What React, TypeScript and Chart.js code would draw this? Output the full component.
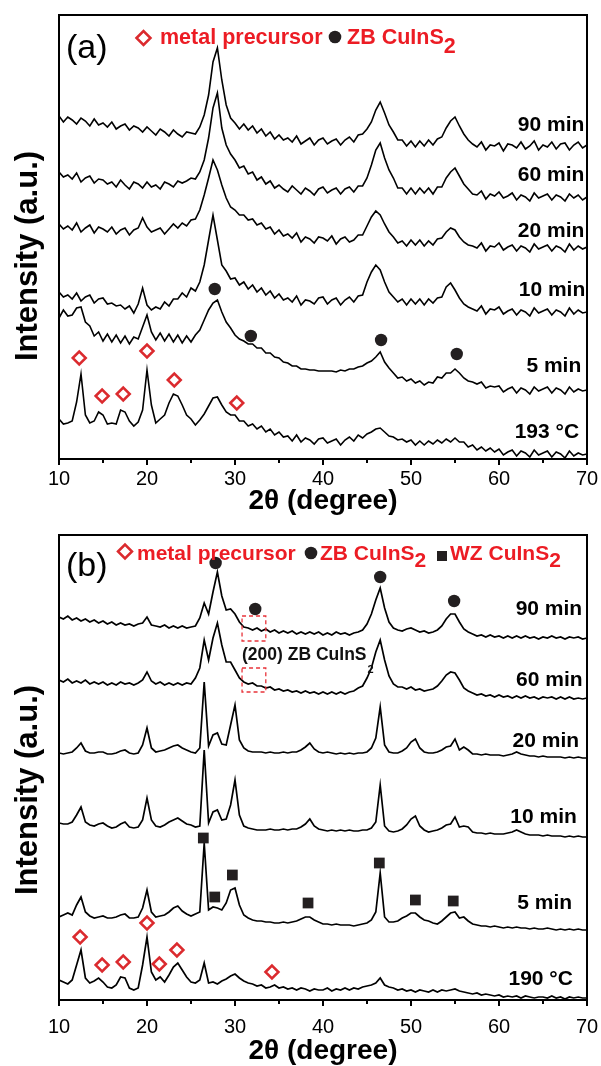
import React, { useEffect, useRef } from 'react';
import { Chart, registerables } from 'chart.js';

Chart.register(...registerables);

const FONT = "'Liberation Sans', Arial, Helvetica, sans-serif";
const RED = '#ec1c24';
const DIAMOND_RED = '#db2a2e';
const MARK_BLACK = '#231f20';

// 2θ sampling grid (degrees)
const TWO_THETA = [
  10, 10.5, 11, 11.5, 12, 12.5, 13, 13.5, 14, 14.5,
  15, 15.5, 16, 16.5, 17, 17.5, 18, 18.5, 19, 19.5,
  20, 20.5, 21, 21.5, 22, 22.5, 23, 23.5, 24, 24.5,
  25, 25.5, 26, 26.5, 27, 27.5, 28, 28.5, 29, 29.5,
  30, 30.5, 31, 31.5, 32, 32.5, 33, 33.5, 34, 34.5,
  35, 35.5, 36, 36.5, 37, 37.5, 38, 38.5, 39, 39.5,
  40, 40.5, 41, 41.5, 42, 42.5, 43, 43.5, 44, 44.5,
  45, 45.5, 46, 46.5, 47, 47.5, 48, 48.5, 49, 49.5,
  50, 50.5, 51, 51.5, 52, 52.5, 53, 53.5, 54, 54.5,
  55, 55.5, 56, 56.5, 57, 57.5, 58, 58.5, 59, 59.5,
  60, 60.5, 61, 61.5, 62, 62.5, 63, 63.5, 64, 64.5,
  65, 65.5, 66, 66.5, 67, 67.5, 68, 68.5, 69, 69.5,
  70,
];

const X_TICKS = [10, 20, 30, 40, 50, 60, 70];
const X_MINOR_TICKS = [15, 25, 35, 45, 55, 65];

// ---------- Panel (a): stacked patterns (a.u., offset) ----------
const A_90 = [
  384, 378, 383, 380, 376, 382, 379, 374, 381, 375,
  377, 373, 378, 371, 374, 376, 370, 374, 372, 368,
  373, 369, 365, 371, 368, 364, 370, 366, 363, 368,
  367, 366, 373, 385, 405, 438, 452, 420, 395, 382,
  377, 371, 376, 370, 374, 367, 371, 364, 368, 361,
  365, 360, 362, 358, 364, 356, 359, 362, 355, 360,
  362, 356, 359, 361, 355, 360, 363, 358, 365, 366,
  371, 378, 390, 398, 387, 375, 368, 360, 360, 354,
  359, 353, 359, 354, 360, 355, 361, 363, 372, 379,
  383, 374, 366, 360, 356, 353, 358, 350, 355, 354,
  357, 349, 356, 355, 352, 358, 351, 354, 359, 350,
  355, 353, 358, 351, 356, 357, 350, 355, 358, 352,
  355,
];
const A_60 = [
  328, 323, 325, 321, 327, 318, 322, 324, 317, 321,
  320, 316, 318, 313, 320, 315, 311, 318, 316, 312,
  318, 313, 315, 311, 318, 316, 313, 319, 317, 319,
  322, 321, 328, 340, 362, 392, 407, 372, 355, 346,
  340, 332, 334, 326, 328, 320, 323, 316, 319, 312,
  315, 311, 308, 314, 310, 306, 312, 309, 305, 311,
  313, 307, 310, 312, 306, 311, 313, 308, 314, 314,
  322, 335, 350, 357, 342, 330, 322, 312, 312, 306,
  312, 306, 312, 307, 312, 306, 313, 313, 322, 328,
  332, 324, 316, 311, 306, 305, 309, 301, 306, 304,
  308, 302, 304, 307, 300, 305, 303, 299, 307, 302,
  304, 306, 300, 305, 303, 299, 306, 302, 305, 300,
  303,
];
const A_20 = [
  276, 271, 274, 270, 277, 268, 272, 275, 267, 273,
  271, 268, 273, 266, 270, 272, 265, 270, 272, 282,
  273, 268, 270, 272, 266, 271, 276, 272, 277, 274,
  280, 281, 290, 305, 322, 340, 330, 315, 302, 293,
  290, 285, 285, 280, 281, 275, 277, 271, 273, 266,
  270, 264, 266, 262, 267, 258, 263, 261, 257, 263,
  262, 259, 264, 256, 261, 263, 258, 260, 265, 265,
  274, 283, 289, 285, 276, 268, 263, 257, 259, 254,
  260, 255, 260, 254, 259, 255, 261, 262, 268, 272,
  270, 263, 258, 255, 254, 252, 257, 249, 254, 253,
  257, 250, 253, 255, 249, 254, 252, 248, 256, 251,
  253, 255, 249, 254, 252, 248, 256, 250, 254, 251,
  253,
];
const A_10 = [
  208, 203, 205, 201, 207, 199, 203, 205, 197, 201,
  202, 196, 197, 194, 195, 191, 194, 187, 196, 212,
  195, 190, 193, 191, 198, 194, 201, 201, 207, 203,
  212, 209, 218, 235, 260, 285, 260, 235, 229, 221,
  222, 215, 218, 211, 215, 208, 212, 205, 209, 202,
  206, 200, 202, 198, 204, 195, 200, 199, 196, 202,
  203, 196, 200, 202, 195, 200, 203, 198, 204, 205,
  218, 228, 235, 230, 218, 208, 203, 198, 201, 195,
  201, 196, 201, 195, 201, 197, 202, 203, 213, 217,
  210, 202, 196, 193, 191, 189, 194, 186, 191, 190,
  193, 186, 189, 191, 185, 190, 188, 184, 192, 187,
  189, 191, 185, 190, 188, 184, 192, 186, 190, 187,
  188,
];
const A_5 = [
  182, 190, 184, 185, 192, 193, 178, 174, 164, 168,
  159, 166, 158, 165, 157, 164, 156, 163, 161, 173,
  185, 168, 160, 167, 159, 166, 158, 165, 157, 164,
  158, 165, 170, 180, 190, 197, 200, 188, 178, 172,
  165, 161, 159, 156, 156, 152, 152, 147, 147, 143,
  142, 138, 137, 134, 134, 131, 131, 130, 130, 129,
  129, 129, 129, 128, 130, 129, 131, 131, 133, 134,
  137, 139, 143, 148, 138, 132, 127, 122, 123, 119,
  121, 117, 119, 115, 118, 117, 123, 122, 127, 127,
  131, 127, 122, 119, 118, 116, 118, 112, 114, 113,
  114, 108, 111, 113, 107, 112, 110, 106, 113, 109,
  111, 113, 107, 112, 110, 106, 113, 108, 111, 109,
  110,
];
const A_193 = [
  81, 76, 77, 79, 98, 126, 85, 77, 79, 88,
  85, 76, 77, 76, 90, 88, 79, 74, 78, 90,
  130, 95, 77, 81, 85, 97, 106, 104, 95, 85,
  81, 75, 80, 86, 94, 102, 103, 95, 88, 85,
  85, 79, 79, 74, 76, 71, 74, 68, 71, 65,
  68, 63, 64, 59, 65, 58, 62, 60, 56, 61,
  62, 57, 59, 61, 55, 60, 63, 59, 65, 62,
  66, 68, 71, 72, 68, 64, 63, 60, 61, 58,
  60, 55, 59, 55, 59, 56, 60, 57, 61, 58,
  62, 58, 58, 53, 55, 50, 53, 49, 52, 48,
  51, 45, 48, 50, 44, 49, 47, 43, 50, 45,
  47, 49, 43, 48, 46, 42, 49, 44, 47, 45,
  46,
];
const A_LABELS = ['90 min', '60 min', '20 min', '10 min', '5 min', '193 °C'];
const A_LABEL_X = [69.7, 69.7, 69.7, 69.8, 69.35, 69.1];
const A_LABEL_Y = [375, 325, 269, 210, 134, 68];
const A_DIAMOND_X = [12.3, 14.9, 17.3, 20.0, 23.1, 30.2];
const A_DIAMOND_Y = [142, 104, 106, 149, 120, 97];
const A_CIRCLE_X = [27.7, 31.8, 46.6, 55.2];
const A_CIRCLE_Y = [211, 164, 160, 146];

// ---------- Panel (b) ----------
const B_90 = [
  383, 381, 384, 380, 382, 379, 381, 378, 380, 377,
  379, 376, 378, 375, 377, 375, 376, 374, 376, 377,
  383, 375, 374, 373, 375, 372, 374, 372, 374, 372,
  373, 374, 382, 397, 386, 408, 428, 404, 390, 391,
  386, 378, 373, 372, 370, 372, 369, 371, 368, 370,
  367, 369, 367, 369, 366, 368, 366, 368, 366, 368,
  365, 367, 365, 368, 366, 367, 365, 367, 368, 370,
  376, 386, 400, 412, 392, 378, 372, 370, 369, 371,
  372, 370, 368, 369, 367, 368, 370, 374, 381, 386,
  386, 378, 371, 368, 366, 364, 365, 363, 365, 363,
  364, 362, 364, 362, 364, 362, 364, 362, 363, 361,
  363, 362, 364, 362, 363, 361, 363, 362, 363, 361,
  362,
];
const B_60 = [
  320, 318, 321, 317, 319, 317, 320, 316, 318, 316,
  318, 315, 317, 315, 318, 316, 317, 315, 317, 320,
  328, 319, 316, 318, 315, 317, 315, 317, 315, 317,
  316, 322, 332, 360, 340, 362, 377, 355, 338, 338,
  330, 322, 318, 316, 317, 314, 314, 312, 313, 310,
  311, 309, 310, 308, 309, 307, 309, 307, 308, 306,
  308, 306, 308, 306, 308, 306, 308, 309, 312, 314,
  322, 332, 348, 360, 340, 324, 316, 313, 313, 311,
  313, 310, 311, 309, 310, 311, 314, 319, 325, 328,
  327, 320, 312, 309, 307, 305, 306, 304, 305, 303,
  305, 303, 304, 302, 304, 302, 304, 302, 303, 301,
  303, 302, 303, 301, 303, 301, 303, 301, 302, 301,
  302,
];
const B_20 = [
  247, 246, 247, 248, 252, 257, 249, 247, 247, 248,
  248, 246, 246, 247, 249, 250, 247, 246, 247, 255,
  272, 252, 248, 249, 250, 252, 254, 255, 252, 250,
  248, 247, 252, 318, 254, 265, 267, 256, 255, 275,
  295, 260, 252, 249, 248, 248, 248, 247, 248, 247,
  247, 248, 247, 248, 248, 250, 253, 257, 251, 248,
  247, 248, 247, 246, 247, 246, 247, 246, 247, 247,
  248, 252, 262, 293, 255, 248, 247, 247, 249, 252,
  258, 261, 252, 248, 247, 247, 248, 250, 253, 254,
  261, 250, 253, 250, 246, 246, 245, 246, 245, 245,
  245, 244, 245, 246, 248, 246, 245, 244, 244, 243,
  244, 243, 243, 243, 243, 242, 243, 242, 243, 242,
  242,
];
const B_10 = [
  177, 176, 176, 178, 185, 193, 178, 175, 174, 176,
  177, 174, 172, 173, 176, 178, 173, 172, 173, 180,
  202, 180, 174, 173, 175, 178, 180, 182, 179, 176,
  175, 173, 174, 250, 177, 188, 190, 180, 181, 195,
  220, 185, 174, 172, 171, 170, 170, 170, 171, 170,
  170, 171, 170, 171, 171, 173, 176, 181, 174, 171,
  170, 169, 170, 169, 170, 169, 170, 169, 169, 170,
  170, 172, 178, 215, 174, 169, 168, 169, 171, 175,
  181, 184, 174, 170, 168, 169, 170, 172, 175, 176,
  183, 173, 174, 173, 168, 167, 167, 166, 167, 166,
  166, 166, 167, 168, 170, 168, 166, 165, 165, 165,
  164, 165, 164, 164, 164, 163, 164, 163, 164, 163,
  163,
];
const B_5 = [
  83, 85, 87, 85, 95, 103, 88, 84, 82, 83,
  84, 82, 82, 83, 85, 86, 82, 82, 83, 92,
  110, 88, 83, 84, 85, 88, 92, 94, 89, 86,
  84, 86, 88, 157, 90, 93, 92, 90, 97, 110,
  112, 95, 85, 82, 80, 79, 79, 78, 78, 77,
  77, 78, 77, 78, 79, 81, 83, 83, 80, 78,
  76, 76, 75, 76, 75, 75, 75, 74, 75, 76,
  77, 80, 88, 127, 83, 78, 78, 79, 82, 84,
  87, 87, 83, 80, 79, 77, 76, 79, 83, 87,
  88, 82, 83, 79, 76, 75, 74, 74, 73, 74,
  73, 72, 73, 72, 73, 72, 72, 71, 72, 71,
  71, 72, 71, 70, 71, 70, 71, 70, 71, 70,
  70,
];
const B_190 = [
  20, 18, 16, 20, 35, 50, 22, 17, 19, 22,
  18, 13, 12, 15, 23, 22, 12, 10, 12, 35,
  63, 28, 20, 23, 18, 25, 33, 37, 30, 23,
  18, 17, 20, 37, 17, 18, 16, 19, 21, 24,
  26, 22, 19, 17, 16, 14, 15, 12, 13, 15,
  12, 13, 11, 12, 10, 12, 11, 9, 11, 10,
  10, 12, 9, 11, 10, 12, 10, 12, 11, 13,
  14, 15, 17, 22, 15, 13, 12, 10, 11, 9,
  10, 8, 10, 9, 8, 10, 8, 10, 9, 10,
  11, 9, 8, 7, 6, 7, 5, 6, 5, 4,
  5, 3, 4, 3, 4, 2, 4, 3, 2, 3,
  3, 2, 4, 2, 3, 1, 3, 2, 3, 2,
  2,
];
const B_LABELS = ['90 min', '60 min', '20 min', '10 min', '5 min', '190 °C'];
const B_LABEL_X = [69.45, 69.5, 69.1, 68.85, 68.3, 68.4];
const B_LABEL_Y = [391, 320, 259, 183, 97, 21];
const B_DIAMOND_X = [12.4, 14.9, 17.3, 20.0, 21.4, 23.4, 34.2];
const B_DIAMOND_Y = [63, 35, 38, 77, 36, 50, 28];
const B_CIRCLE_X = [27.8, 32.3, 46.5, 54.9];
const B_CIRCLE_Y = [437, 391, 423, 399];
const B_SQUARE_X = [26.4, 29.7, 27.7, 38.3, 46.4, 50.5, 54.8];
const B_SQUARE_Y = [162, 125, 103, 97, 137, 100, 99];
// dashed boxes around the weak (200) ZB reflection
const B_BOX_X = [30.8, 33.5];
const B_BOX_Y1 = [359, 384];
const B_BOX_Y2 = [308, 332];

type LegendItem = { k: string; x: number; y: number; t?: string; dy?: number };

type PanelSpec = {
  letter: string;
  height: number;
  yMin: number;
  yMax: number;
  series: number[][];
  labels: string[];
  labelX: number[];
  labelY: number[];
  diamonds: [number[], number[]];
  circles: [number[], number[]];
  squares?: [number[], number[]];
  legend: LegendItem[];
  legendSize: number;
  letterBaseline: number;
  axisHeight: number;
  tickPad: number;
  titlePad: number;
  yTitleY: number;
  lineWidth: number;
  boxes?: boolean;
};

const SPEC_A: PanelSpec = {
  letter: '(a)',
  height: 520,
  yMin: 41,
  yMax: 485,
  series: [A_90, A_60, A_20, A_10, A_5, A_193],
  labels: A_LABELS,
  labelX: A_LABEL_X,
  labelY: A_LABEL_Y,
  diamonds: [A_DIAMOND_X, A_DIAMOND_Y],
  circles: [A_CIRCLE_X, A_CIRCLE_Y],
  legend: [
    { k: 'diamond', x: 143.5, y: 38 },
    { k: 'text', x: 160, y: 44, t: 'metal precursor' },
    { k: 'circle', x: 335, y: 37 },
    { k: 'chem', x: 347, y: 44, t: 'ZB CuInS', dy: 9 },
  ],
  legendSize: 21.5,
  letterBaseline: 58,
  axisHeight: 61,
  tickPad: 8,
  titlePad: 5,
  yTitleY: 256,
  lineWidth: 1.6,
};

const SPEC_B: PanelSpec = {
  letter: '(b)',
  height: 546,
  yMin: 0,
  yMax: 465,
  series: [B_90, B_60, B_20, B_10, B_5, B_190],
  labels: B_LABELS,
  labelX: B_LABEL_X,
  labelY: B_LABEL_Y,
  diamonds: [B_DIAMOND_X, B_DIAMOND_Y],
  circles: [B_CIRCLE_X, B_CIRCLE_Y],
  squares: [B_SQUARE_X, B_SQUARE_Y],
  legend: [
    { k: 'diamond', x: 125, y: 31.5 },
    { k: 'text', x: 137, y: 40, t: 'metal precursor' },
    { k: 'circle', x: 311, y: 33 },
    { k: 'chem', x: 320, y: 40, t: 'ZB CuInS', dy: 7 },
    { k: 'square', x: 442, y: 36 },
    { k: 'chem', x: 450, y: 40, t: 'WZ CuInS', dy: 7 },
  ],
  legendSize: 21,
  letterBaseline: 56,
  axisHeight: 66,
  tickPad: 15,
  titlePad: 1,
  yTitleY: 270,
  lineWidth: 1.7,
  boxes: true,
};

function pts(xs: number[], ys: number[]) {
  return xs.map((x, i) => ({ x, y: ys[i] }));
}

function drawDiamond(ctx: CanvasRenderingContext2D, x: number, y: number, r: number) {
  ctx.beginPath();
  ctx.moveTo(x - r, y);
  ctx.lineTo(x, y - r);
  ctx.lineTo(x + r, y);
  ctx.lineTo(x, y + r);
  ctx.closePath();
  ctx.fillStyle = '#fff';
  ctx.fill();
  ctx.strokeStyle = DIAMOND_RED;
  ctx.lineWidth = 2.5;
  ctx.stroke();
}

function buildChart(canvas: HTMLCanvasElement, spec: PanelSpec) {
  const lineSets: any[] = spec.series.map((vals, k) => ({
    type: 'line',
    label: spec.labels[k],
    data: pts(TWO_THETA, vals),
    borderColor: '#000',
    borderWidth: spec.lineWidth,
    pointRadius: 0,
    tension: 0,
    fill: false,
    order: 2,
  }));
  const markerSets: any[] = [
    {
      type: 'scatter',
      label: 'metal precursor',
      data: pts(spec.diamonds[0], spec.diamonds[1]),
      pointStyle: 'rectRot',
      pointRadius: 6.5,
      borderColor: DIAMOND_RED,
      borderWidth: 2.5,
      backgroundColor: '#fff',
      order: 1,
    },
    {
      type: 'scatter',
      label: 'ZB CuInS2',
      data: pts(spec.circles[0], spec.circles[1]),
      pointStyle: 'circle',
      pointRadius: 6.2,
      borderWidth: 0,
      backgroundColor: MARK_BLACK,
      order: 1,
    },
  ];
  if (spec.squares) {
    markerSets.push({
      type: 'scatter',
      label: 'WZ CuInS2',
      data: pts(spec.squares[0], spec.squares[1]),
      pointStyle: 'rect',
      pointRadius: 7.6,
      borderWidth: 0,
      backgroundColor: MARK_BLACK,
      order: 1,
    });
  }

  const decor = {
    id: 'decor',
    afterDatasetsDraw(chart: any) {
      const { ctx, chartArea: a, scales } = chart;
      const xs = scales.x;
      const ys = scales.y;
      ctx.save();
      if (spec.boxes) {
        ctx.strokeStyle = '#e8333a';
        ctx.lineWidth = 1.3;
        ctx.setLineDash([4, 3]);
        for (const yy of [B_BOX_Y1, B_BOX_Y2]) {
          const x0 = xs.getPixelForValue(B_BOX_X[0]);
          const x1 = xs.getPixelForValue(B_BOX_X[1]);
          const y0 = ys.getPixelForValue(yy[1]);
          const y1 = ys.getPixelForValue(yy[0]);
          ctx.strokeRect(x0, y0, x1 - x0, y1 - y0);
        }
        ctx.setLineDash([]);
        const tx = xs.getPixelForValue(30.8);
        const ty = ys.getPixelForValue(340);
        ctx.fillStyle = '#111';
        ctx.font = `bold 17.5px ${FONT}`;
        ctx.textAlign = 'left';
        ctx.textBaseline = 'alphabetic';
        const main = '(200) ZB CuInS';
        ctx.fillText(main, tx, ty);
        const w = ctx.measureText(main).width;
        ctx.font = `bold 11px ${FONT}`;
        ctx.fillText('2', tx + w + 1, ty + 13);
      }
      ctx.strokeStyle = '#000';
      ctx.lineWidth = 2;
      ctx.strokeRect(a.left, a.top, a.right - a.left, a.bottom - a.top);
      ctx.beginPath();
      for (const v of X_TICKS) {
        const px = Math.round(xs.getPixelForValue(v));
        ctx.moveTo(px, a.bottom);
        ctx.lineTo(px, a.bottom + 6);
      }
      for (const v of X_MINOR_TICKS) {
        const px = Math.round(xs.getPixelForValue(v));
        ctx.moveTo(px, a.bottom);
        ctx.lineTo(px, a.bottom + 4);
      }
      ctx.stroke();
      ctx.restore();
    },
    afterDraw(chart: any) {
      const { ctx, scales } = chart;
      const xs = scales.x;
      const ys = scales.y;
      ctx.save();
      ctx.fillStyle = '#000';
      ctx.font = `bold 21px ${FONT}`;
      ctx.textAlign = 'right';
      ctx.textBaseline = 'middle';
      spec.labels.forEach((t, i) => {
        ctx.fillText(t, xs.getPixelForValue(spec.labelX[i]), ys.getPixelForValue(spec.labelY[i]));
      });
      ctx.font = `34px ${FONT}`;
      ctx.textAlign = 'left';
      ctx.textBaseline = 'alphabetic';
      ctx.fillText(spec.letter, 66, spec.letterBaseline);
      for (const it of spec.legend) {
        if (it.k === 'diamond') {
          drawDiamond(ctx, it.x, it.y, 7);
        } else if (it.k === 'circle') {
          ctx.beginPath();
          ctx.arc(it.x, it.y, 6.3, 0, Math.PI * 2);
          ctx.fillStyle = MARK_BLACK;
          ctx.fill();
        } else if (it.k === 'square') {
          ctx.fillStyle = MARK_BLACK;
          ctx.fillRect(it.x - 5, it.y - 5, 10, 10);
        } else {
          ctx.fillStyle = RED;
          ctx.font = `bold ${spec.legendSize}px ${FONT}`;
          ctx.textAlign = 'left';
          ctx.textBaseline = 'alphabetic';
          ctx.fillText(it.t || '', it.x, it.y);
          if (it.k === 'chem') {
            const w = ctx.measureText(it.t || '').width;
            ctx.fillText('2', it.x + w, it.y + (it.dy || 0));
          }
        }
      }
      ctx.fillStyle = '#000';
      ctx.font = `bold 31px ${FONT}`;
      ctx.translate(28, spec.yTitleY);
      ctx.rotate(-Math.PI / 2);
      ctx.textAlign = 'center';
      ctx.textBaseline = 'middle';
      ctx.fillText('Intensity (a.u.)', 0, 0);
      ctx.restore();
    },
  };

  return new Chart(canvas, {
    type: 'line',
    data: { datasets: [...markerSets, ...lineSets] },
    options: {
      responsive: false,
      animation: false,
      devicePixelRatio: 1,
      events: [],
      layout: { padding: { left: 59, right: 14, top: 15, bottom: 0 } },
      plugins: { legend: { display: false }, tooltip: { enabled: false } },
      scales: {
        x: {
          type: 'linear',
          min: 10,
          max: 70,
          afterBuildTicks: (s: any) => {
            s.ticks = X_TICKS.map((v) => ({ value: v }));
          },
          afterFit: (s: any) => {
            s.height = spec.axisHeight;
            s.paddingLeft = 0;
            s.paddingRight = 0;
          },
          grid: { display: false, drawTicks: false },
          border: { display: false },
          ticks: {
            padding: spec.tickPad,
            color: '#000',
            maxRotation: 0,
            autoSkip: false,
            font: { family: FONT, size: 20 },
          },
          title: {
            display: true,
            text: '2θ (degree)',
            color: '#000',
            font: { family: FONT, size: 28, weight: 'bold', lineHeight: 1 },
            padding: { top: 0, bottom: spec.titlePad },
          },
        },
        y: { type: 'linear', display: false, min: spec.yMin, max: spec.yMax },
      },
    } as any,
    plugins: [decor],
  });
}

function Panel({ spec }: { spec: PanelSpec }) {
  const ref = useRef<HTMLCanvasElement | null>(null);
  useEffect(() => {
    if (!ref.current) return;
    const chart = buildChart(ref.current, spec);
    return () => chart.destroy();
  }, [spec]);
  return (
    <canvas
      ref={ref}
      width={601}
      height={spec.height}
      style={{ display: 'block', width: 601, height: spec.height }}
    />
  );
}

export default function App() {
  return (
    <div style={{ position: 'absolute', left: 0, top: 0, width: 601, height: 1066, background: '#fff' }}>
      <Panel spec={SPEC_A} />
      <Panel spec={SPEC_B} />
    </div>
  );
}
